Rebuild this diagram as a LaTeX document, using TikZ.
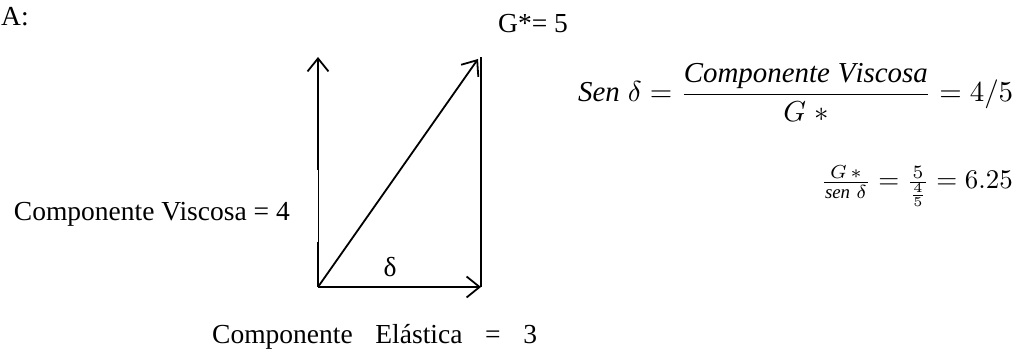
\documentclass[tikz,border=0pt]{standalone}
\usepackage{fontspec}
\setmainfont{Liberation Serif}
\usepackage{amsmath}
\usepackage{graphicx}
\usetikzlibrary{arrows.meta}
\begin{document}
\begin{tikzpicture}[x=1pt,y=-1pt,
  vec/.style={line width=1.8pt,-{Straight Barb[length=13pt,width=21pt,line width=1.8pt]}},
  edge/.style={line width=1.8pt},
  thinedge/.style={line width=0.7pt},
  lbl/.style={font=\fontsize{27.5}{32}\selectfont, inner sep=0pt},
  eq/.style={inner sep=0pt}]
\useasboundingbox (0,0) rectangle (1020,352);
% corner points
\coordinate (O) at (318,287);
\coordinate (T) at (318,57);
\coordinate (L1) at (318,242);
\coordinate (L2) at (318,170);
\coordinate (R) at (481,287);
\coordinate (RT) at (481,57);
\coordinate (D) at (478,59);
% vectors
\draw[edge] (O) -- (L1);
\draw[thinedge] (L1) -- (L2);
\draw[vec] (L2) -- (T);
\draw[edge] (R) -- (RT);
\draw[vec] (O) -- (D);
\draw[vec] (O) -- (R);
% labels
\node[lbl, anchor=base west] (A) at (1,26) {A:};
\node[lbl, anchor=base west] (G) at (498,33) {G*= 5};
\node[lbl] (delta) at (390,267) {δ};
\node[lbl, anchor=base east] (CV) at (290,221) {Componente Viscosa = 4};
\node[lbl, anchor=base west] (CE) at (212,344) {Componente\hspace{22.7pt}Elástica\hspace{22.7pt}=\hspace{22.7pt}3};
% equations
\node[eq, anchor=base west] (E1) at (578,102) {\resizebox{435pt}{!}{$\mathit{Sen}\;\delta = \dfrac{\mathit{Componente\;Viscosa}}{G\;*} = 4/5$}};
\node[eq, anchor=base east] (E2) at (1013,189) {\resizebox{192pt}{!}{$\frac{\;G\,*\;}{\mathit{sen}\;\delta} = \frac{5}{\frac{4}{5}} = 6.25$}};
\end{tikzpicture}
\end{document}
